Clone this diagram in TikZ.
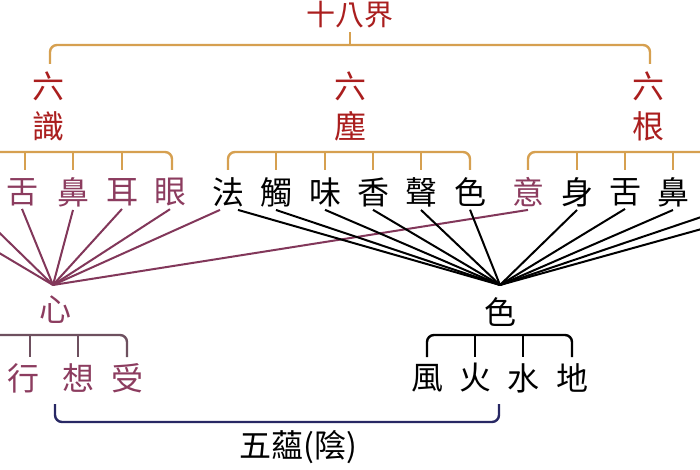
\documentclass[tikz,border=0pt]{standalone}
\usepackage{fontspec}
\newfontfamily\cjk{Noto Sans CJK TC}
\begin{document}
\begin{tikzpicture}[x=1pt,y=-1pt,
  br/.style={line width=2.4pt,rounded corners=7pt},
  ob/.style={br,draw={rgb,255:red,214;green,160;blue,80}},
  kb/.style={br,draw=black},
  nb/.style={br,draw={rgb,255:red,40;green,40;blue,100}},
  tk/.style={line width=2.4pt},
  ch/.style={font=\cjk\fontsize{32}{32}\selectfont,inner sep=0pt},
  red/.style={ch,text={rgb,255:red,170;green,30;blue,30}},
  pur/.style={ch,text={rgb,255:red,140;green,60;blue,95}},
  pl/.style={line width=2pt,draw={rgb,255:red,130;green,55;blue,90}},
  bl/.style={line width=2pt,draw=black}]
\useasboundingbox (0,0) rectangle (700,470);
\fill[white] (0,0) rectangle (700,470);
\begin{scope}
\clip (0,0) rectangle (700,470);
\node[red,font=\cjk\fontsize{29}{29}\selectfont] (t) at (350,15) {十八界};
\draw[ob] (50,64) -- (50,45) -- (650,45) -- (650,64);
\draw[ob,rounded corners=0] (350,45) -- (350,32);
\node[red] (a1) at (48,86) {六}; \node[red] (a2) at (48,126) {識};
\node[red] (b1) at (350,86) {六}; \node[red] (b2) at (350,126) {塵};
\node[red] (c1) at (648,86) {六}; \node[red] (c2) at (648,126) {根};
% brackets
\draw[ob] (-30,152) -- (172,152) -- (172,170);
\foreach \x in {25,73,122} \draw[ob,rounded corners=0] (\x,152) -- (\x,170);
\draw[ob] (228,170) -- (228,152) -- (470,152) -- (470,170);
\foreach \x in {276,325,373,421} \draw[ob,rounded corners=0] (\x,152) -- (\x,170);
\draw[ob] (528,170) -- (528,152) -- (730,152);
\foreach \x in {577,625,673} \draw[ob,rounded corners=0] (\x,152) -- (\x,170);
% items
\coordinate (s1) at (-73,210); \coordinate (s2) at (-24,210);
\foreach \n/\x/\t in {s3/22/舌,s4/73/鼻,s5/122/耳,s6/170/眼}
  \node[pur] (\n) at (\x,192) {\t};
\foreach \n/\x/\t in {d1/228/法,d2/276/觸,d3/325/味,d4/373/香,d5/421/聲,d6/470/色}
  \node[ch] (\n) at (\x,192) {\t};
\node[pur] (g1) at (528,192) {意};
\foreach \n/\x/\t in {g2/577/身,g3/625/舌,g4/673/鼻}
  \node[ch] (\n) at (\x,192) {\t};
\coordinate (g5) at (722,210); \coordinate (g6) at (770,210);
\coordinate (xin) at (53,285);
\coordinate (se) at (500,285);
\foreach \n in {s1,s2} \draw[pl] (\n) -- (xin);
\foreach \n in {s3,s4,s5,s6} \draw[pl] ([yshift=-3pt]\n.south) -- (xin);
\draw[pl] ([xshift=-8pt,yshift=-3pt]d1.south) -- (xin);
\draw[pl] ([yshift=-3pt]g1.south) -- (xin);
\draw[bl] ([xshift=10pt,yshift=-3pt]d1.south) -- (se);
\foreach \n in {d2,d3,d4,d5,d6,g2,g3,g4} \draw[bl] ([yshift=-3pt]\n.south) -- (se);
\foreach \n in {g5,g6} \draw[bl] (\n) -- (se);
\node[pur] (xn) at (55,310) {心};
\node[ch] (sn) at (500,312) {色};
% lower brackets
\draw[draw={rgb,255:red,110;green,80;blue,95},br] (-30,335) -- (127,335) -- (127,357);
\foreach \x in {30,78} \draw[draw={rgb,255:red,110;green,80;blue,95},tk] (\x,335) -- (\x,357);
\foreach \n/\x/\t in {h1/24/行,h2/78/想,h3/127/受} \node[pur] (\n) at (\x,378) {\t};
\draw[kb] (427,357) -- (427,335) -- (572,335) -- (572,357);
\foreach \x in {475,523} \draw[tk] (\x,335) -- (\x,357);
\foreach \n/\x/\t in {e1/427/風,e2/475/火,e3/523/水,e4/572/地} \node[ch] (\n) at (\x,378) {\t};
\draw[nb] (55,404) -- (55,422) -- (499,422) -- (499,404);
\node[ch] (wy) at (298,447) {五蘊(陰)};
\end{scope}
\end{tikzpicture}
\end{document}
